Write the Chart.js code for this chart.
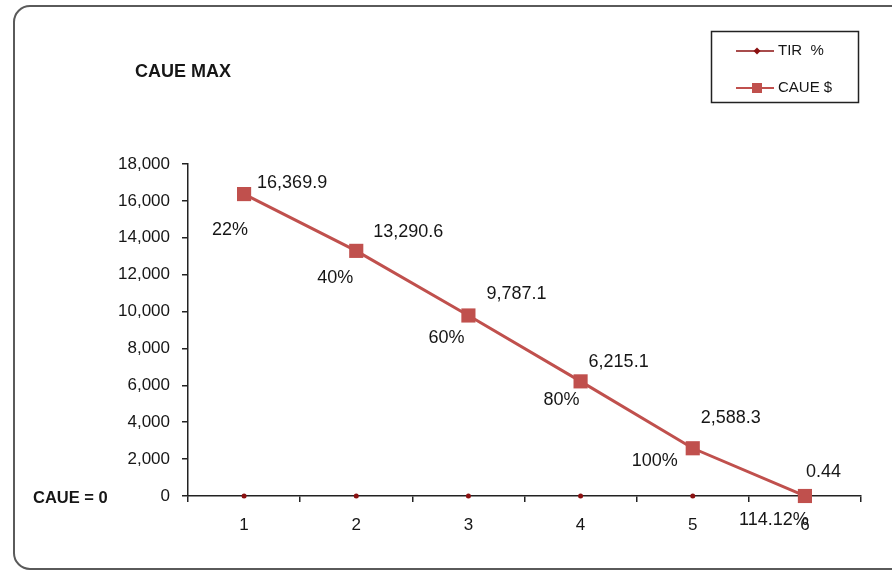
<!DOCTYPE html>
<html>
<head>
<meta charset="utf-8">
<title>CAUE MAX</title>
<script src="https://cdn.jsdelivr.net/npm/chart.js@4/dist/chart.umd.min.js"></script>
<style>
  html, body { margin: 0; padding: 0; background: #ffffff; }
  #wrap { width: 892px; height: 571px; position: relative; }
</style>
</head>
<body>
<div id="wrap"><canvas id="chart" width="892" height="571"></canvas></div>
<script>
// Periods on the horizontal axis
const periods = ['1', '2', '3', '4', '5', '6'];
// Internal rate of return for each period (fraction)
const tirValues = [0.22, 0.40, 0.60, 0.80, 1.00, 1.1412];
// Equivalent uniform annual cost, $
const caueValues = [16369.9, 13290.6, 9787.1, 6215.1, 2588.3, 0.44];
// Vertical axis range
const yMin = 0, yMax = 18000, yStep = 2000;

// Hand-placed label offsets (px) relative to each CAUE point
const caueLabelOffsets = [[13, -11], [17, -19], [18, -21], [8, -19], [8, -30], [1, -24]];
const tirLabelOffsets = [[-14, 36], [-21, 27], [-22, 23], [-19, 19], [-38, 13], [-31, 24]];

const FONT = '"Liberation Sans", Arial, sans-serif';
const TEXT = '#161616';
const CAUE_COLOR = '#C0504D';
const TIR_COLOR = '#8B1111';

const fmtCaue = v => v.toLocaleString('en-US', { minimumFractionDigits: 1, maximumFractionDigits: 2 });
const fmtTir = v => (v * 100).toLocaleString('en-US', { maximumFractionDigits: 2 }) + '%';

// Rounded outer frame drawn behind everything
const framePlugin = {
  id: 'frame',
  beforeDraw(chart) {
    const ctx = chart.ctx;
    ctx.save();
    ctx.fillStyle = '#ffffff';
    ctx.fillRect(0, 0, chart.width, chart.height);
    ctx.beginPath();
    ctx.roundRect(14, 6, 900, 563, 16);
    ctx.lineWidth = 2;
    ctx.strokeStyle = '#5a5a5a';
    ctx.stroke();
    ctx.restore();
  }
};

// Title, zero note, legend box and data labels
const decorPlugin = {
  id: 'decor',
  afterDatasetsDraw(chart) {
    const ctx = chart.ctx;
    const xs = chart.scales.x, ys = chart.scales.y;
    ctx.save();

    // Title
    ctx.fillStyle = TEXT;
    ctx.font = 'bold 18px ' + FONT;
    ctx.textAlign = 'left';
    ctx.textBaseline = 'middle';
    ctx.fillText('CAUE MAX', 135, 72);

    // Zero reference note beside the baseline
    ctx.font = 'bold 16.5px ' + FONT;
    ctx.fillText('CAUE = 0', 33, ys.getPixelForValue(0) + 2);

    // Data labels
    ctx.font = '18px ' + FONT;
    caueValues.forEach((v, i) => {
      const px = xs.getPixelForValue(i), py = ys.getPixelForValue(v);
      ctx.textAlign = 'left';
      ctx.fillText(fmtCaue(v), px + caueLabelOffsets[i][0], py + caueLabelOffsets[i][1]);
      ctx.textAlign = 'center';
      ctx.fillText(fmtTir(tirValues[i]), px + tirLabelOffsets[i][0], py + tirLabelOffsets[i][1]);
    });

    // Legend box
    ctx.lineWidth = 1.5;
    ctx.strokeStyle = '#222';
    ctx.strokeRect(711.5, 31.5, 147, 71);
    ctx.font = '15px ' + FONT;
    ctx.textAlign = 'left';
    // TIR entry
    ctx.strokeStyle = TIR_COLOR;
    ctx.lineWidth = 1.5;
    ctx.beginPath(); ctx.moveTo(736, 51); ctx.lineTo(774, 51); ctx.stroke();
    ctx.fillStyle = TIR_COLOR;
    ctx.beginPath();
    ctx.moveTo(757, 47.5); ctx.lineTo(760.5, 51); ctx.lineTo(757, 54.5); ctx.lineTo(753.5, 51);
    ctx.closePath(); ctx.fill();
    ctx.fillStyle = TEXT;
    ctx.fillText('TIR  %', 778, 51);
    // CAUE entry
    ctx.strokeStyle = CAUE_COLOR;
    ctx.lineWidth = 2;
    ctx.beginPath(); ctx.moveTo(736, 88); ctx.lineTo(774, 88); ctx.stroke();
    ctx.fillStyle = CAUE_COLOR;
    ctx.fillRect(752, 83, 10, 10);
    ctx.fillStyle = TEXT;
    ctx.fillText('CAUE $', 778, 88);

    ctx.restore();
  }
};

new Chart(document.getElementById('chart'), {
  type: 'line',
  data: {
    labels: periods,
    datasets: [
      {
        label: 'TIR  %',
        data: tirValues,
        order: 2,
        showLine: false,
        borderColor: TIR_COLOR,
        backgroundColor: TIR_COLOR,
        pointStyle: 'circle',
        pointRadius: 2.5,
        pointBorderWidth: 0,
        clip: false
      },
      {
        label: 'CAUE $',
        data: caueValues,
        order: 1,
        borderColor: CAUE_COLOR,
        backgroundColor: CAUE_COLOR,
        borderWidth: 3,
        pointStyle: 'rect',
        pointRadius: 10,
        pointBorderWidth: 0,
        tension: 0,
        clip: false
      }
    ]
  },
  options: {
    responsive: false,
    animation: false,
    devicePixelRatio: 1,
    events: [],
    layout: { padding: { left: 0, right: 31, top: 164, bottom: 0 } },
    plugins: { legend: { display: false }, tooltip: { enabled: false }, title: { display: false } },
    scales: {
      x: {
        type: 'category',
        offset: true,
        grid: { offset: true, drawOnChartArea: false, tickLength: 6, color: '#222', lineWidth: 1.5 },
        border: { color: '#222', width: 1.5 },
        ticks: { color: TEXT, font: { family: FONT, size: 17 }, padding: 13, maxRotation: 0 },
        afterFit(scale) { scale.height = 75; }
      },
      y: {
        min: yMin,
        max: yMax,
        grid: { drawOnChartArea: false, tickLength: 6, color: '#222', lineWidth: 1.5 },
        border: { color: '#222', width: 1.5 },
        ticks: {
          stepSize: yStep,
          color: TEXT,
          font: { family: FONT, size: 17 },
          padding: 12,
          callback: v => v.toLocaleString('en-US')
        },
        afterFit(scale) { scale.width = 188; }
      }
    }
  },
  plugins: [framePlugin, decorPlugin]
});
</script>
</body>
</html>
